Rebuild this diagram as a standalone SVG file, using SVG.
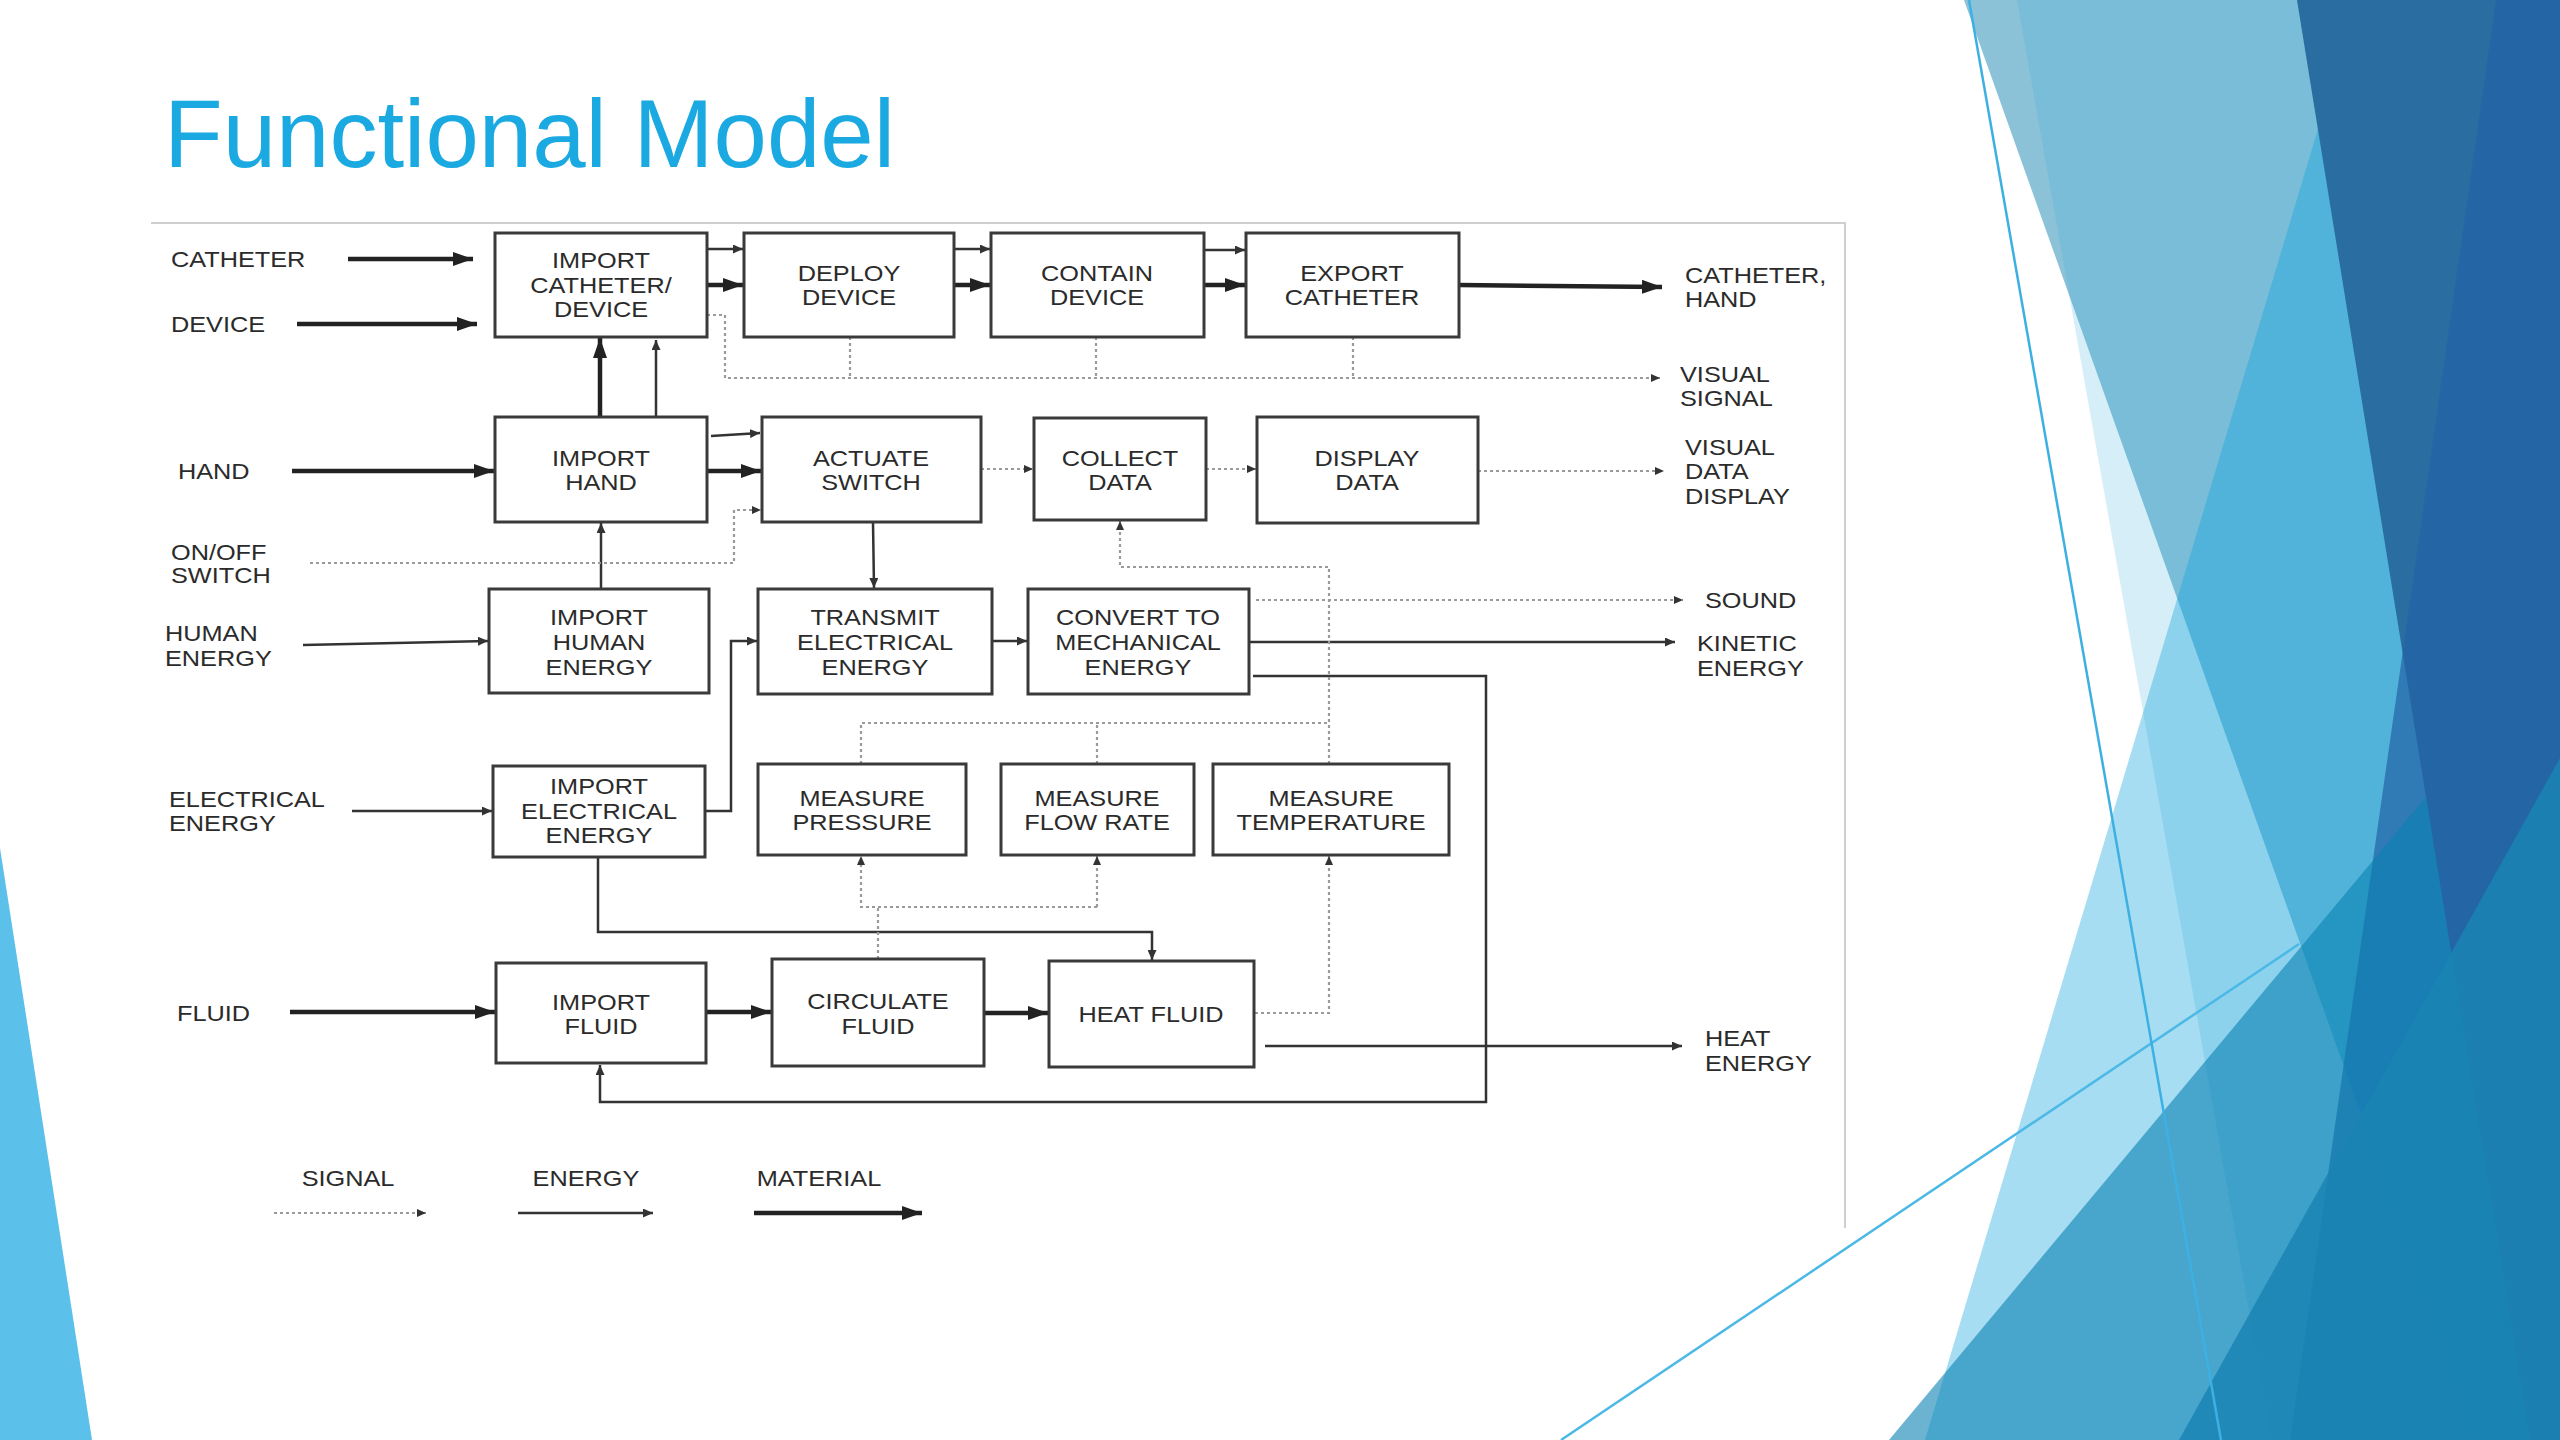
<svg xmlns="http://www.w3.org/2000/svg" width="2560" height="1440" viewBox="0 0 2560 1440">
<defs>
<style>
.t{font-family:"Liberation Sans",Arial,sans-serif;font-size:22px;fill:#2b2b2b}
.m{text-anchor:middle}
.box rect{fill:#fff;stroke:#3a3a3a;stroke-width:3}
.mat{fill:none;stroke:#222;stroke-width:4.5;marker-end:url(#am)}
.en{fill:none;stroke:#333;stroke-width:2.5}
.ena{fill:none;stroke:#333;stroke-width:2.5;marker-end:url(#ae)}
.sg{fill:none;stroke:#9a9a9a;stroke-width:2.2;stroke-dasharray:3 3}
.sga{fill:none;stroke:#9a9a9a;stroke-width:2.2;stroke-dasharray:3 3;marker-end:url(#as)}
</style>
<marker id="am" markerUnits="userSpaceOnUse" markerWidth="21" markerHeight="14" refX="20" refY="7" orient="auto"><path d="M0,0 L20,7 L0,14 z" fill="#222"/></marker>
<marker id="ae" markerUnits="userSpaceOnUse" markerWidth="11" markerHeight="9" refX="10" refY="4.5" orient="auto"><path d="M0,0 L10,4.5 L0,9 z" fill="#333"/></marker>
<marker id="as" markerUnits="userSpaceOnUse" markerWidth="10" markerHeight="8" refX="9" refY="4" orient="auto"><path d="M0,0 L9,4 L0,8 z" fill="#333"/></marker>
</defs>
<rect width="2560" height="1440" fill="#fff"/>
<g id="decor">
<polygon points="1964,0 2560,0 2560,1440 2477,1440" fill="#8CC2D7"/>
<polygon points="2017,0 2560,0 2560,1440 2272,1440" fill="#2FA8DC" opacity="0.2"/>
<polygon points="2318,129 2560,1300 2560,1440 1925,1440" fill="#0BA0DB" opacity="0.36"/>
<polygon points="2297,0 2560,0 2560,1440 2530,1440" fill="#2A6DA0"/>
<polygon points="2496,0 2560,0 2560,1440 2290,1440" fill="#2262A6" opacity="0.7"/>
<polygon points="1889,1440 2426,797 2530,1440" fill="#0880B1" opacity="0.6"/>
<polygon points="2179,1440 2560,758 2560,1440" fill="#1A84B4" opacity="0.85"/>
<line x1="1561" y1="1440" x2="2299" y2="944" stroke="#4BB8E6" stroke-width="2.5"/>
<line x1="1969" y1="0" x2="2221" y2="1440" stroke="#3DB0E3" stroke-width="2.5"/>
<polygon points="0,848 92,1440 0,1440" fill="#5BC0EA"/>
</g>
<text x="164" y="167" font-family="Liberation Sans, Arial, sans-serif" font-size="96" fill="#1AA9E1">Functional Model</text>
<g id="frame" stroke="#cfcfcf" stroke-width="2" fill="none">
<polyline points="151,223 1845,223 1845,1228"/>
</g>
<g id="connectors">
<line class="mat" x1="348" y1="259" x2="473" y2="259"/>
<line class="mat" x1="297" y1="324" x2="477" y2="324"/>
<line class="mat" x1="292" y1="471" x2="494" y2="471"/>
<line class="mat" x1="290" y1="1012" x2="495" y2="1012"/>
<line class="mat" x1="707" y1="285" x2="743" y2="285"/>
<line class="mat" x1="954" y1="285" x2="990" y2="285"/>
<line class="mat" x1="1204" y1="285" x2="1245" y2="285"/>
<line class="mat" x1="1459" y1="285" x2="1662" y2="287"/>
<line class="mat" x1="707" y1="471" x2="761" y2="471"/>
<line class="mat" x1="600" y1="417" x2="600" y2="338"/>
<line class="mat" x1="706" y1="1012" x2="771" y2="1012"/>
<line class="mat" x1="984" y1="1013" x2="1048" y2="1013"/>
<line class="ena" x1="707" y1="249" x2="743" y2="249"/>
<line class="ena" x1="954" y1="249" x2="990" y2="249"/>
<line class="ena" x1="1204" y1="250" x2="1245" y2="250"/>
<line class="ena" x1="656" y1="417" x2="656" y2="340"/>
<line class="ena" x1="711" y1="436" x2="760" y2="433"/>
<line class="ena" x1="303" y1="645" x2="488" y2="641"/>
<line class="ena" x1="601" y1="589" x2="601" y2="523"/>
<line class="ena" x1="352" y1="811" x2="492" y2="811"/>
<polyline class="ena" points="705,811 731,811 731,641 757,641"/>
<line class="ena" x1="873" y1="522" x2="874" y2="588"/>
<line class="ena" x1="992" y1="641" x2="1027" y2="641"/>
<line class="ena" x1="1249" y1="642" x2="1675" y2="642"/>
<polyline class="ena" points="1253,676 1486,676 1486,1102 600,1102 600,1065"/>
<polyline class="ena" points="598,857 598,932 1152,932 1152,960"/>
<line class="ena" x1="1265" y1="1046" x2="1682" y2="1046"/>
<polyline class="sga" points="707,315 725,315 725,378 1660,378"/>
<line class="sg" x1="850" y1="337" x2="850" y2="378"/>
<line class="sg" x1="1096" y1="337" x2="1096" y2="378"/>
<line class="sg" x1="1353" y1="337" x2="1353" y2="378"/>
<polyline class="sga" points="310,563 734,563 734,510 761,510"/>
<line class="sga" x1="981" y1="469" x2="1033" y2="469"/>
<line class="sga" x1="1206" y1="469" x2="1256" y2="469"/>
<line class="sga" x1="1478" y1="471" x2="1664" y2="471"/>
<line class="sga" x1="1256" y1="600" x2="1683" y2="600"/>
<polyline class="sga" points="1329,764 1329,567 1120,567 1120,521"/>
<polyline class="sg" points="861,764 861,723 1329,723"/>
<line class="sg" x1="1097" y1="764" x2="1097" y2="723"/>
<line class="sg" x1="878" y1="959" x2="878" y2="907"/>
<polyline class="sga" points="1097,907 861,907 861,856"/>
<line class="sga" x1="1097" y1="907" x2="1097" y2="856"/>
<polyline class="sga" points="1255,1013 1329,1013 1329,856"/>
<line class="sga" x1="274" y1="1213" x2="426" y2="1213"/>
<line class="ena" x1="518" y1="1213" x2="653" y2="1213"/>
<line class="mat" x1="754" y1="1213" x2="922" y2="1213"/>
</g>
<g id="n1" class="box"><rect x="495" y="233" width="212" height="104"/>
<text class="t m" transform="translate(601,268) scale(1.15,1)">IMPORT</text>
<text class="t m" transform="translate(601,293) scale(1.15,1)">CATHETER/</text>
<text class="t m" transform="translate(601,317) scale(1.15,1)">DEVICE</text></g>
<g id="n2" class="box"><rect x="744" y="233" width="210" height="104"/>
<text class="t m" transform="translate(849,281) scale(1.15,1)">DEPLOY</text>
<text class="t m" transform="translate(849,305) scale(1.15,1)">DEVICE</text></g>
<g id="n3" class="box"><rect x="991" y="233" width="213" height="104"/>
<text class="t m" transform="translate(1097,281) scale(1.15,1)">CONTAIN</text>
<text class="t m" transform="translate(1097,305) scale(1.15,1)">DEVICE</text></g>
<g id="n4" class="box"><rect x="1246" y="233" width="213" height="104"/>
<text class="t m" transform="translate(1352,281) scale(1.15,1)">EXPORT</text>
<text class="t m" transform="translate(1352,305) scale(1.15,1)">CATHETER</text></g>
<g id="n5" class="box"><rect x="495" y="417" width="212" height="105"/>
<text class="t m" transform="translate(601,466) scale(1.15,1)">IMPORT</text>
<text class="t m" transform="translate(601,490) scale(1.15,1)">HAND</text></g>
<g id="n6" class="box"><rect x="762" y="417" width="219" height="105"/>
<text class="t m" transform="translate(871,466) scale(1.15,1)">ACTUATE</text>
<text class="t m" transform="translate(871,490) scale(1.15,1)">SWITCH</text></g>
<g id="n7" class="box"><rect x="1034" y="418" width="172" height="102"/>
<text class="t m" transform="translate(1120,466) scale(1.15,1)">COLLECT</text>
<text class="t m" transform="translate(1120,490) scale(1.15,1)">DATA</text></g>
<g id="n8" class="box"><rect x="1257" y="417" width="221" height="106"/>
<text class="t m" transform="translate(1367,466) scale(1.15,1)">DISPLAY</text>
<text class="t m" transform="translate(1367,490) scale(1.15,1)">DATA</text></g>
<g id="n9" class="box"><rect x="489" y="589" width="220" height="104"/>
<text class="t m" transform="translate(599,625) scale(1.15,1)">IMPORT</text>
<text class="t m" transform="translate(599,650) scale(1.15,1)">HUMAN</text>
<text class="t m" transform="translate(599,675) scale(1.15,1)">ENERGY</text></g>
<g id="n10" class="box"><rect x="758" y="589" width="234" height="105"/>
<text class="t m" transform="translate(875,625) scale(1.15,1)">TRANSMIT</text>
<text class="t m" transform="translate(875,650) scale(1.15,1)">ELECTRICAL</text>
<text class="t m" transform="translate(875,675) scale(1.15,1)">ENERGY</text></g>
<g id="n11" class="box"><rect x="1028" y="589" width="221" height="105"/>
<text class="t m" transform="translate(1138,625) scale(1.15,1)">CONVERT TO</text>
<text class="t m" transform="translate(1138,650) scale(1.15,1)">MECHANICAL</text>
<text class="t m" transform="translate(1138,675) scale(1.15,1)">ENERGY</text></g>
<g id="n12" class="box"><rect x="493" y="766" width="212" height="91"/>
<text class="t m" transform="translate(599,794) scale(1.15,1)">IMPORT</text>
<text class="t m" transform="translate(599,819) scale(1.15,1)">ELECTRICAL</text>
<text class="t m" transform="translate(599,843) scale(1.15,1)">ENERGY</text></g>
<g id="n13" class="box"><rect x="758" y="764" width="208" height="91"/>
<text class="t m" transform="translate(862,806) scale(1.15,1)">MEASURE</text>
<text class="t m" transform="translate(862,830) scale(1.15,1)">PRESSURE</text></g>
<g id="n14" class="box"><rect x="1001" y="764" width="193" height="91"/>
<text class="t m" transform="translate(1097,806) scale(1.15,1)">MEASURE</text>
<text class="t m" transform="translate(1097,830) scale(1.15,1)">FLOW RATE</text></g>
<g id="n15" class="box"><rect x="1213" y="764" width="236" height="91"/>
<text class="t m" transform="translate(1331,806) scale(1.15,1)">MEASURE</text>
<text class="t m" transform="translate(1331,830) scale(1.15,1)">TEMPERATURE</text></g>
<g id="n16" class="box"><rect x="496" y="963" width="210" height="100"/>
<text class="t m" transform="translate(601,1010) scale(1.15,1)">IMPORT</text>
<text class="t m" transform="translate(601,1034) scale(1.15,1)">FLUID</text></g>
<g id="n17" class="box"><rect x="772" y="959" width="212" height="107"/>
<text class="t m" transform="translate(878,1009) scale(1.15,1)">CIRCULATE</text>
<text class="t m" transform="translate(878,1034) scale(1.15,1)">FLUID</text></g>
<g id="n18" class="box"><rect x="1049" y="961" width="205" height="106"/>
<text class="t m" transform="translate(1151,1022) scale(1.15,1)">HEAT FLUID</text></g>
<g id="labels">
<text class="t" transform="translate(171,267) scale(1.15,1)">CATHETER</text>
<text class="t" transform="translate(171,332) scale(1.15,1)">DEVICE</text>
<text class="t" transform="translate(178,479) scale(1.15,1)">HAND</text>
<text class="t" transform="translate(171,560) scale(1.15,1)">ON/OFF</text>
<text class="t" transform="translate(171,583) scale(1.15,1)">SWITCH</text>
<text class="t" transform="translate(165,641) scale(1.15,1)">HUMAN</text>
<text class="t" transform="translate(165,666) scale(1.15,1)">ENERGY</text>
<text class="t" transform="translate(169,807) scale(1.15,1)">ELECTRICAL</text>
<text class="t" transform="translate(169,831) scale(1.15,1)">ENERGY</text>
<text class="t" transform="translate(177,1021) scale(1.15,1)">FLUID</text>
<text class="t" transform="translate(1685,283) scale(1.15,1)">CATHETER,</text>
<text class="t" transform="translate(1685,307) scale(1.15,1)">HAND</text>
<text class="t" transform="translate(1680,382) scale(1.15,1)">VISUAL</text>
<text class="t" transform="translate(1680,406) scale(1.15,1)">SIGNAL</text>
<text class="t" transform="translate(1685,455) scale(1.15,1)">VISUAL</text>
<text class="t" transform="translate(1685,479) scale(1.15,1)">DATA</text>
<text class="t" transform="translate(1685,504) scale(1.15,1)">DISPLAY</text>
<text class="t" transform="translate(1705,608) scale(1.15,1)">SOUND</text>
<text class="t" transform="translate(1697,651) scale(1.15,1)">KINETIC</text>
<text class="t" transform="translate(1697,676) scale(1.15,1)">ENERGY</text>
<text class="t" transform="translate(1705,1046) scale(1.15,1)">HEAT</text>
<text class="t" transform="translate(1705,1071) scale(1.15,1)">ENERGY</text>
<text class="t m" transform="translate(348,1186) scale(1.15,1)">SIGNAL</text>
<text class="t m" transform="translate(586,1186) scale(1.15,1)">ENERGY</text>
<text class="t m" transform="translate(819,1186) scale(1.15,1)">MATERIAL</text>
</g>
</svg>
